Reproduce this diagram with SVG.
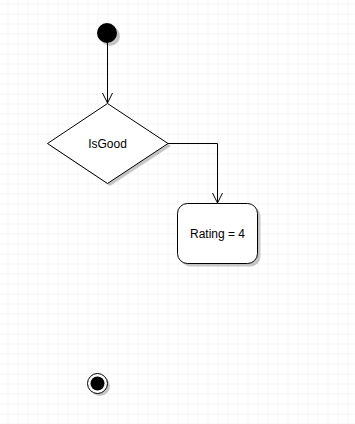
<svg xmlns="http://www.w3.org/2000/svg" width="355" height="424" viewBox="0 0 355 424">
<defs>
<pattern id="grid" x="7.5" y="3.5" width="10" height="10" patternUnits="userSpaceOnUse">
<path d="M0 0 V10 M0 0 H10" stroke="#ebebeb" stroke-width="1" fill="none"/>
</pattern>
<marker id="open" viewBox="0 0 12 12" refX="11" refY="6" markerWidth="12" markerHeight="12" markerUnits="userSpaceOnUse" orient="auto">
<path d="M1 1 L11 6 L1 11" fill="none" stroke="#000" stroke-width="1"/>
</marker>
</defs>
<style>
.shape{fill:#fff;stroke:#000;stroke-width:1}
.shadow{fill:#000;opacity:0.22;stroke:none}
.lbl{font-family:"Liberation Sans",Arial,sans-serif;font-size:12px;fill:#000;text-anchor:middle;dominant-baseline:central}
.edge{fill:none;stroke:#000;stroke-width:1}
</style>
<rect width="355" height="424" fill="#fff"/>
<rect width="355" height="424" fill="url(#grid)"/>
<g id="connectors">
<path class="edge" d="M107.5 43 V103" marker-end="url(#open)"/>
<path class="edge" d="M168 143.5 H217.5 V203" marker-end="url(#open)"/>
</g>
<g id="start">
<circle class="shadow" cx="110" cy="36" r="10"/>
<circle cx="107" cy="33" r="10" fill="#000"/>
</g>
<g id="isgood">
<polygon class="shadow" points="110,106 171,146 110,186 50,146"/>
<polygon class="shape" points="107.5,103.5 168,143.5 107.5,183.5 47.5,143.5"/>
<text class="lbl" x="107.5" y="143.5">IsGood</text>
</g>
<g id="rating">
<rect class="shadow" x="180.5" y="206.5" width="80" height="60" rx="10"/>
<rect class="shape" x="177.5" y="203.5" width="80" height="60" rx="10"/>
<text class="lbl" x="217.5" y="233.5">Rating = 4</text>
</g>
<g id="end">
<circle class="shadow" cx="100" cy="386" r="10"/>
<circle class="shape" cx="97.5" cy="383.5" r="10"/>
<circle cx="97.5" cy="383.5" r="7" fill="#000"/>
</g>
</svg>
